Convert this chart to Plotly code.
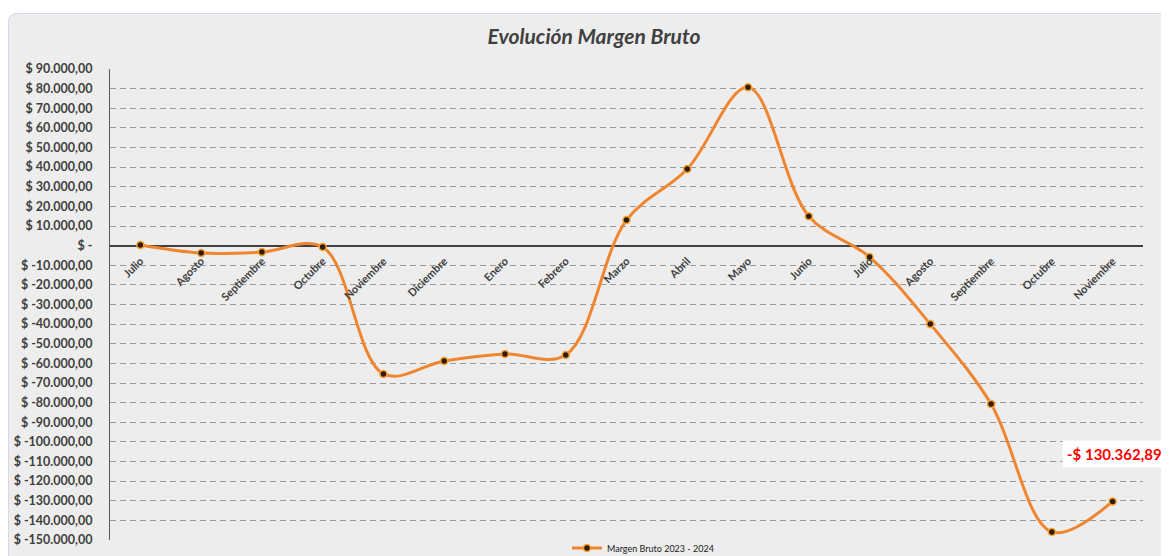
import plotly.graph_objects as go

months = ["Julio", "Agosto", "Septiembre", "Octubre", "Noviembre", "Diciembre", "Enero",
          "Febrero", "Marzo", "Abril", "Mayo", "Junio", "Julio", "Agosto", "Septiembre",
          "Octubre", "Noviembre"]
margen = [300, -3800, -3300, -700, -65400, -58800, -55200, -55700, 13000, 39000,
          80700, 15000, -5800, -40000, -80700, -145900, -130362.89]
y_ticks = list(range(90000, -150001, -10000))
series_name = "Margen Bruto 2023 - 2024"
title_text = "Evolución Margen Bruto"


def fmt_num(v):
    s = f"{abs(v):,.2f}".replace(",", "X").replace(".", ",").replace("X", ".")
    return s


def tick_label(v):
    if v == 0:
        return "$ -"
    return f"$ {'-' if v < 0 else ''}{fmt_num(v)}"


x_idx = list(range(len(months)))
y_min, y_max = -150000, 90000

# page has an 8px body margin; work in page coordinates, convert to figure coords
OFF = 8
W, H = 1169 - OFF, 556 - OFF
PL, PR, PT, PB = 110, 1143, 69, 540  # plot area edges in page pixels
L, R, T, B = PL - OFF, W - (PR - OFF), PT - OFF, H - (PB - OFF)
pw, ph = W - L - R, H - T - B


def px(x):
    return (x - OFF - L) / pw


def py(y):
    return (H - B - (y - OFF)) / ph


fig = go.Figure()
fig.add_trace(go.Scatter(
    x=x_idx, y=margen, mode="lines+markers", name=series_name,
    line=dict(color="#F0852F", width=3, shape="spline", smoothing=1.0),
    marker=dict(size=7, color="#2E1C0C", line=dict(color="#F7A030", width=1.5)),
))

# Card background
x0, x1, y0, y1 = px(8.5), px(1220), py(600), py(13.5)
rx, ry = 9 / pw, 9 / ph
path = (f"M {x0},{y1-ry} Q {x0},{y1} {x0+rx},{y1} L {x1},{y1} L {x1},{y0} "
        f"L {x0},{y0} Z")
fig.add_shape(type="path", path=path, xref="paper", yref="paper",
              fillcolor="#EDEDED", line=dict(color="#D8D6E8", width=1), layer="below")

last = len(margen) - 1
fig.add_annotation(
    x=last, y=margen[last],
    text=f"<b>-$ {fmt_num(margen[last])}</b>" if margen[last] < 0 else f"<b>$ {fmt_num(margen[last])}</b>",
    showarrow=False, yshift=47, xshift=2,
    font=dict(family="Lato, Open Sans, sans-serif", size=15, color="#FF0000"),
    bgcolor="#FFFFFF", borderpad=4,
)

fig.update_layout(
    width=W, height=H,
    margin=dict(l=L, r=R, t=T, b=B, autoexpand=False),
    paper_bgcolor="#FFFFFF",
    plot_bgcolor="#EDEDED",
    title=dict(text=f"<b><i>{title_text}</i></b>", x=(594 - OFF) / W, xref="container",
               xanchor="center", y=1 - (37 - OFF) / H, yanchor="middle", automargin=False,
               font=dict(family="Lato, Open Sans, sans-serif", size=21, color="#404040")),
    showlegend=True,
    legend=dict(orientation="h", x=px(643), xanchor="center", y=py(548),
                yanchor="middle", bgcolor="rgba(0,0,0,0)",
                font=dict(family="Lato, Open Sans, sans-serif", size=9, color="#202020"),
                itemwidth=30),
    font=dict(family="Lato, Open Sans, sans-serif"),
)

fig.update_xaxes(
    range=[-0.5, len(months) - 0.5],
    tickmode="array", tickvals=x_idx, ticktext=[f"<b>{m}</b>" for m in months],
    tickangle=-45, tickfont=dict(size=11, color="#404040"),
    showgrid=False, zeroline=False, showline=False, ticks="",
    anchor="free", position=(0 - y_min) / (y_max - y_min), automargin=False,
    ticklabelstandoff=6,
)
fig.update_yaxes(
    range=[y_min, y_max],
    tickmode="array", tickvals=y_ticks, ticktext=[f"<b>{tick_label(v)}</b>" for v in y_ticks],
    tickfont=dict(size=12.5, color="#404040"),
    showgrid=True, gridcolor="#9A9A9A", griddash="6px,4px", gridwidth=1.2,
    zeroline=True, zerolinecolor="#404040", zerolinewidth=2,
    showline=True, linecolor="#595959", linewidth=1,
    ticks="", ticklabelstandoff=14, automargin=False,
)

fig.write_html("out.html")
